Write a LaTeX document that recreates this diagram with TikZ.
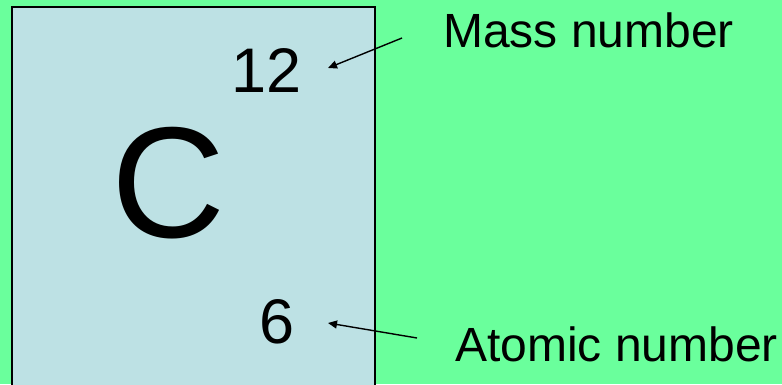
\documentclass[tikz,border=0pt]{standalone}
\usepackage{fontspec}
\setmainfont{Liberation Sans}
\usetikzlibrary{positioning,arrows.meta,calc}
\definecolor{bggreen}{HTML}{6AFF9C}
\definecolor{cellblue}{HTML}{BDE1E4}
\begin{document}
\begin{tikzpicture}[x=1pt, y=1pt,
  lbl/.style={anchor=base west, inner sep=0pt, font=\fontsize{48}{50}\selectfont},
  num/.style={anchor=base west, inner sep=0pt, font=\fontsize{63}{66}\selectfont},
  arr/.style={-{Triangle[length=9pt, width=8pt]}, line width=1.4pt}]
\fill[bggreen] (0,0) rectangle (782,384);
\useasboundingbox (0,0) rectangle (782,384);
\draw[fill=cellblue, line width=2pt] (11.5,-5) -- (11.5,376.5) -- (374.5,376.5) -- (374.5,-5);
\node[anchor=base west, inner sep=0pt, font=\fontsize{158}{160}\selectfont] (sym) at (111,147) {C};
\node[num] (mass) at (231,292) {12};
\node[num] (atomic) at (259,41) {6};
\node[lbl] (masslbl) at (443,337) {Mass number};
\node[lbl] (atomiclbl) at (455,23) {Atomic number};
\coordinate (masstail) at (402,346);
\coordinate (masshead) at (328,316);
\coordinate (atomictail) at (417,46);
\coordinate (atomichead) at (328,61);
\draw[arr] (masstail) -- (masshead);
\draw[arr] (atomictail) -- (atomichead);
\end{tikzpicture}
\end{document}
